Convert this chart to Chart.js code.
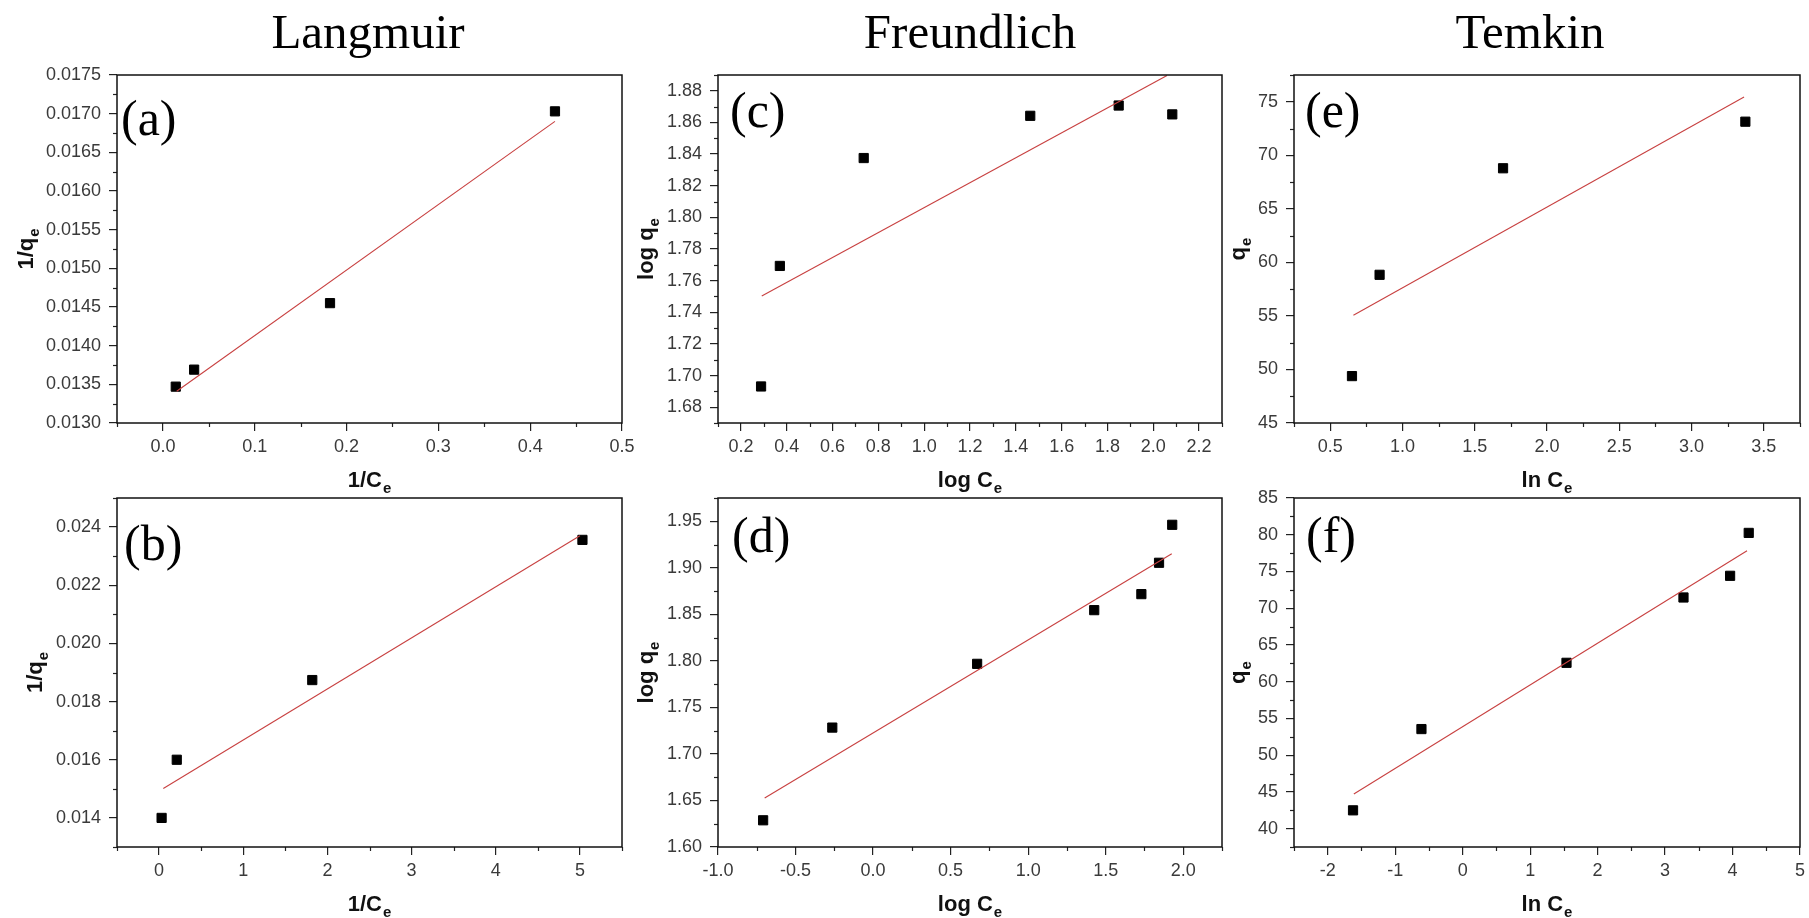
<!DOCTYPE html>
<html>
<head>
<meta charset="utf-8">
<title>Langmuir / Freundlich / Temkin isotherms</title>
<script src="https://cdn.jsdelivr.net/npm/chart.js@4"></script>
<style>
  html, body { margin: 0; padding: 0; background: #fff; }
  #wrap { position: relative; width: 1809px; height: 918px; overflow: hidden; }
  #wrap canvas { position: absolute; left: 0; top: 0; }
</style>
</head>
<body>
<div id="wrap">
  <canvas id="chartA" width="1809" height="918"></canvas>
  <canvas id="chartB" width="1809" height="918"></canvas>
  <canvas id="chartC" width="1809" height="918"></canvas>
  <canvas id="chartD" width="1809" height="918"></canvas>
  <canvas id="chartE" width="1809" height="918"></canvas>
  <canvas id="chartF" width="1809" height="918"></canvas>
</div>
<script>
// ===== Data =====
// (a) Langmuir, top row
const aX = [0.014, 0.034, 0.182, 0.427];
const aY = [0.01347, 0.01369, 0.01455, 0.01703];
const aFitX = [0.015, 0.427];
const aFitY = [0.01341, 0.01690];
const aXRange = [-0.05, 0.5];
const aYRange = [0.0130, 0.0175];
const aXTicks = ['0.0', '0.1', '0.2', '0.3', '0.4', '0.5'];
const aYTicks = ['0.0130', '0.0135', '0.0140', '0.0145', '0.0150', '0.0155', '0.0160', '0.0165', '0.0170', '0.0175'];

// (b) Langmuir, bottom row
const bX = [0.03, 0.21, 1.82, 5.03];
const bY = [0.0140, 0.0160, 0.01874, 0.02356];
const bFitX = [0.05, 5.0];
const bFitY = [0.01501, 0.02370];
const bXRange = [-0.5, 5.5];
const bYRange = [0.013, 0.025];
const bXTicks = ['0', '1', '2', '3', '4', '5'];
const bYTicks = ['0.014', '0.016', '0.018', '0.020', '0.022', '0.024'];

// (c) Freundlich, top row
const cX = [0.288, 0.370, 0.736, 1.463, 1.849, 2.083];
const cY = [1.6931, 1.7693, 1.8375, 1.8642, 1.8707, 1.8651];
const cFitX = [0.291, 2.06];
const cFitY = [1.7503, 1.8897];
const cXRange = [0.1, 2.3];
const cYRange = [1.67, 1.89];
const cXTicks = ['0.2', '0.4', '0.6', '0.8', '1.0', '1.2', '1.4', '1.6', '1.8', '2.0', '2.2'];
const cYTicks = ['1.68', '1.70', '1.72', '1.74', '1.76', '1.78', '1.80', '1.82', '1.84', '1.86', '1.88'];

// (d) Freundlich, bottom row
const dX = [-0.709, -0.263, 0.671, 1.426, 1.730, 1.844, 1.929];
const dY = [1.6287, 1.7283, 1.7968, 1.8545, 1.8717, 1.9054, 1.9462];
const dFitX = [-0.699, 1.926];
const dFitY = [1.6527, 1.9151];
const dXRange = [-1.0, 2.25];
const dYRange = [1.60, 1.975];
const dXTicks = ['-1.0', '-0.5', '0.0', '0.5', '1.0', '1.5', '2.0'];
const dYTicks = ['1.60', '1.65', '1.70', '1.75', '1.80', '1.85', '1.90', '1.95'];

// (e) Temkin, top row
const eX = [0.651, 0.842, 1.696, 3.372];
const eY = [49.38, 58.84, 68.79, 73.14];
const eFitX = [0.661, 3.363];
const eFitY = [55.07, 75.44];
const eXRange = [0.25, 3.75];
const eYRange = [45, 77.5];
const eXTicks = ['0.5', '1.0', '1.5', '2.0', '2.5', '3.0', '3.5'];
const eYTicks = ['45', '50', '55', '60', '65', '70', '75'];

// (f) Temkin, bottom row
const fX = [-1.625, -0.611, 1.539, 3.273, 3.964, 4.24];
const fY = [42.49, 53.55, 62.57, 71.46, 74.41, 80.25];
const fFitX = [-1.613, 4.215];
const fFitY = [44.71, 77.81];
const fXRange = [-2.5, 5];
const fYRange = [37.5, 85];
const fXTicks = ['-2', '-1', '0', '1', '2', '3', '4', '5'];
const fYTicks = ['40', '45', '50', '55', '60', '65', '70', '75', '80', '85'];

// ===== Layout =====
const W = 1809, H = 918;
const cols = [[117, 622], [718, 1222], [1294, 1800]];
const rows = [[75, 423], [498, 847]];
const X_AXIS_H = 69;
const SANS = '"Liberation Sans", Arial, sans-serif';
const SERIF = '"Liberation Serif", "Times New Roman", serif';

// titles are [main text, subscript]
const panels = [
  { id: 'chartA', px: aX, py: aY, fx: aFitX, fy: aFitY, xr: aXRange, yr: aYRange, xt: aXTicks, yt: aYTicks,
    xMinor: 0.05, yMinor: 0.00025, xTitle: ['1/C', 'e'], yTitle: ['1/q', 'e'], col: 0, row: 0, yW: 101, ytx: -84,
    letter: '(a)', ldx: 4, ldy: 60, heading: 'Langmuir', hx: 368 },
  { id: 'chartB', px: bX, py: bY, fx: bFitX, fy: bFitY, xr: bXRange, yr: bYRange, xt: bXTicks, yt: bYTicks,
    xMinor: 0.5, yMinor: 0.001, xTitle: ['1/C', 'e'], yTitle: ['1/q', 'e'], col: 0, row: 1, yW: 92, ytx: -75,
    letter: '(b)', ldx: 7, ldy: 62 },
  { id: 'chartC', px: cX, py: cY, fx: cFitX, fy: cFitY, xr: cXRange, yr: cYRange, xt: cXTicks, yt: cYTicks,
    xMinor: 0.1, yMinor: 0.01, xTitle: ['log C', 'e'], yTitle: ['log q', 'e'], col: 1, row: 0, yW: 82, ytx: -65,
    letter: '(c)', ldx: 12, ldy: 52, heading: 'Freundlich', hx: 970 },
  { id: 'chartD', px: dX, py: dY, fx: dFitX, fy: dFitY, xr: dXRange, yr: dYRange, xt: dXTicks, yt: dYTicks,
    xMinor: 0.25, yMinor: 0.025, xTitle: ['log C', 'e'], yTitle: ['log q', 'e'], col: 1, row: 1, yW: 82, ytx: -65,
    letter: '(d)', ldx: 14, ldy: 54 },
  { id: 'chartE', px: eX, py: eY, fx: eFitX, fy: eFitY, xr: eXRange, yr: eYRange, xt: eXTicks, yt: eYTicks,
    xMinor: 0.25, yMinor: 2.5, xTitle: ['ln C', 'e'], yTitle: ['q', 'e'], col: 2, row: 0, yW: 64, ytx: -49,
    letter: '(e)', ldx: 11, ldy: 52, heading: 'Temkin', hx: 1530 },
  { id: 'chartF', px: fX, py: fY, fx: fFitX, fy: fFitY, xr: fXRange, yr: fYRange, xt: fXTicks, yt: fYTicks,
    xMinor: 0.5, yMinor: 2.5, xTitle: ['ln C', 'e'], yTitle: ['q', 'e'], col: 2, row: 1, yW: 64, ytx: -49,
    letter: '(f)', ldx: 12, ldy: 54 }
];

// bold title with a subscript, centred on (0, 0) horizontally, baseline at y = 0
function subTitle(ctx, parts) {
  ctx.font = 'bold 22px ' + SANS;
  const w1 = ctx.measureText(parts[0]).width;
  ctx.font = 'bold 15px ' + SANS;
  const w2 = ctx.measureText(parts[1]).width;
  const x0 = -(w1 + w2 + 1) / 2;
  ctx.font = 'bold 22px ' + SANS;
  ctx.fillText(parts[0], x0, 0);
  ctx.font = 'bold 15px ' + SANS;
  ctx.fillText(parts[1], x0 + w1 + 1, 6);
}

// frame, minor ticks, axis titles, panel letter and column heading
const decorations = {
  id: 'decorations',
  afterDraw(chart, args, o) {
    const ctx = chart.ctx;
    const area = chart.chartArea;
    ctx.save();
    ctx.strokeStyle = '#222';
    ctx.lineWidth = 1.2;
    ['x', 'y'].forEach(id => {
      const s = chart.scales[id];
      const step = o.minor[id];
      const majors = s.ticks.map(t => t.value);
      const n0 = Math.ceil(s.min / step - 1e-6);
      const n1 = Math.floor(s.max / step + 1e-6);
      for (let n = n0; n <= n1; n++) {
        const v = n * step;
        if (majors.some(m => Math.abs(m - v) < step * 1e-3)) continue;
        const p = Math.round(s.getPixelForValue(v)) + 0.5;
        ctx.beginPath();
        if (id === 'x') { ctx.moveTo(p, area.bottom); ctx.lineTo(p, area.bottom + 4); }
        else { ctx.moveTo(area.left - 4, p); ctx.lineTo(area.left, p); }
        ctx.stroke();
      }
    });
    ctx.strokeStyle = '#111';
    ctx.lineWidth = 1.5;
    ctx.strokeRect(area.left, area.top, area.right - area.left, area.bottom - area.top);

    // axis titles
    ctx.fillStyle = '#111';
    ctx.textAlign = 'left';
    ctx.textBaseline = 'alphabetic';
    ctx.save();
    ctx.translate((area.left + area.right) / 2, area.bottom + 64);
    subTitle(ctx, o.xTitle);
    ctx.restore();
    ctx.save();
    ctx.translate(area.left + o.ytx, (area.top + area.bottom) / 2);
    ctx.rotate(-Math.PI / 2);
    subTitle(ctx, o.yTitle);
    ctx.restore();

    ctx.fillStyle = '#000';
    ctx.font = '50px ' + SERIF;
    ctx.fillText(o.letter, area.left + o.ldx, area.top + o.ldy);
    if (o.heading) {
      ctx.font = '49px ' + SERIF;
      ctx.textAlign = 'center';
      ctx.fillText(o.heading, o.hx, 48);
    }
    ctx.restore();
  }
};

function axis(range, labels, fixed, horizontal, pad) {
  return {
    type: 'linear',
    position: horizontal ? 'bottom' : 'left',
    min: range[0],
    max: range[1],
    bounds: 'data',
    afterBuildTicks: (a) => { a.ticks = labels.map(s => ({ value: parseFloat(s) })); },
    afterFit: (a) => {
      if (horizontal) a.height = fixed; else a.width = fixed;
      a.paddingLeft = a.paddingRight = a.paddingTop = a.paddingBottom = 0;
    },
    grid: { drawOnChartArea: false, drawTicks: true, tickLength: 8, color: '#222', lineWidth: 1.2 },
    border: { display: false },
    ticks: {
      autoSkip: false, maxRotation: 0, padding: pad, color: '#3a3a3a',
      font: { family: SANS, size: 18 },
      callback: (v, i) => labels[i]
    },
    title: { display: false }
  };
}

panels.forEach(p => {
  const [left, right] = cols[p.col];
  const [top, bottom] = rows[p.row];
  new Chart(document.getElementById(p.id), {
    type: 'scatter',
    data: {
      datasets: [
        {
          label: 'fit',
          data: p.fx.map((x, i) => ({ x: x, y: p.fy[i] })),
          showLine: true,
          borderColor: 'rgb(200,65,65)',
          borderWidth: 1.1,
          pointRadius: 0,
          fill: false
        },
        {
          label: 'data',
          data: p.px.map((x, i) => ({ x: x, y: p.py[i] })),
          pointStyle: 'rect',
          pointRadius: 6.5,
          backgroundColor: '#000',
          borderColor: '#000',
          borderWidth: 1
        }
      ]
    },
    options: {
      responsive: false,
      animation: false,
      events: [],
      devicePixelRatio: 1,
      layout: {
        padding: { left: left - p.yW, top: top, right: W - right, bottom: H - bottom - X_AXIS_H }
      },
      scales: {
        x: axis(p.xr, p.xt, X_AXIS_H, true, 5),
        y: axis(p.yr, p.yt, p.yW, false, 8)
      },
      plugins: {
        legend: { display: false },
        tooltip: { enabled: false },
        decorations: {
          minor: { x: p.xMinor, y: p.yMinor },
          xTitle: p.xTitle, yTitle: p.yTitle, ytx: p.ytx,
          letter: p.letter, ldx: p.ldx, ldy: p.ldy,
          heading: p.heading, hx: p.hx
        }
      }
    },
    plugins: [decorations]
  });
});
</script>
</body>
</html>
